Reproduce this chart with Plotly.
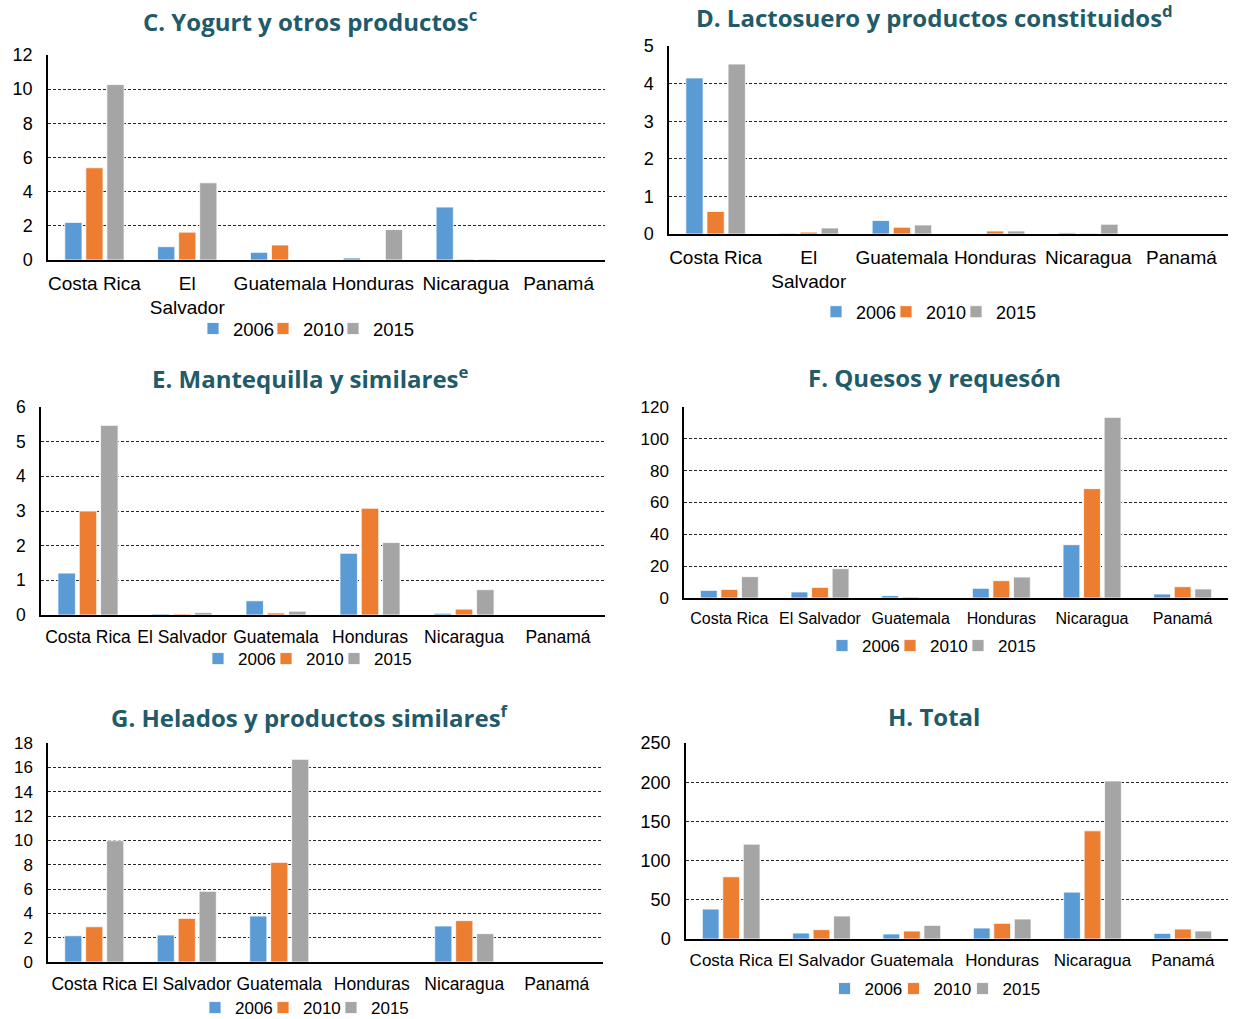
import plotly.graph_objects as go

countries = ["Costa Rica", "El Salvador", "Guatemala", "Honduras", "Nicaragua", "Panamá"]
countries_wrapped = ["Costa Rica", "El<br>Salvador", "Guatemala", "Honduras", "Nicaragua", "Panamá"]
years = ["2006", "2010", "2015"]
colors = ["#5B9BD5", "#ED7D31", "#A5A5A5"]

# C. Yogurt y otros productos
yogurt_2006 = [2.2, 0.78, 0.45, 0.12, 3.1, 0]
yogurt_2010 = [5.4, 1.63, 0.88, 0, 0.05, 0]
yogurt_2015 = [10.27, 4.52, 0, 1.78, 0.05, 0]

# D. Lactosuero y productos constituidos
suero_2006 = [4.15, 0.02, 0.36, 0, 0.03, 0]
suero_2010 = [0.6, 0.05, 0.18, 0.08, 0.02, 0]
suero_2015 = [4.52, 0.16, 0.24, 0.08, 0.26, 0]

# E. Mantequilla y similares
mant_2006 = [1.21, 0.03, 0.41, 1.78, 0.05, 0]
mant_2010 = [3.0, 0.03, 0.06, 3.08, 0.17, 0]
mant_2015 = [5.47, 0.07, 0.11, 2.09, 0.73, 0]

# F. Quesos y requesón
queso_2006 = [4.8, 3.8, 1.5, 6.1, 33.5, 2.5]
queso_2010 = [5.4, 6.7, 0.6, 10.9, 68.7, 7.1]
queso_2015 = [13.4, 18.4, 0, 13.2, 113.5, 5.7]

# G. Helados y productos similares
helado_2006 = [2.16, 2.22, 3.78, 0, 2.96, 0]
helado_2010 = [2.9, 3.59, 8.19, 0, 3.4, 0]
helado_2015 = [9.97, 5.81, 16.66, 0, 2.33, 0]

# H. Total
total_2006 = [38.2, 7.6, 6.4, 14.0, 59.8, 7.2]
total_2010 = [79.4, 11.9, 10.2, 20.0, 138.0, 12.7]
total_2015 = [121.0, 29.3, 17.4, 25.5, 201.6, 10.2]

titles = [
    "C. Yogurt y otros productos<sup>c</sup>",
    "D. Lactosuero y productos constituidos<sup>d</sup>",
    "E. Mantequilla y similares<sup>e</sup>",
    "F. Quesos y requesón",
    "G. Helados y productos similares<sup>f</sup>",
    "H. Total",
]
panel_data = [
    [yogurt_2006, yogurt_2010, yogurt_2015],
    [suero_2006, suero_2010, suero_2015],
    [mant_2006, mant_2010, mant_2015],
    [queso_2006, queso_2010, queso_2015],
    [helado_2006, helado_2010, helado_2015],
    [total_2006, total_2010, total_2015],
]
y_max = [12, 5, 6, 120, 18, 250]
y_dtick = [2, 1, 1, 20, 2, 50]

W, H = 1233, 1019
# pixel boxes: left, right, top, bottom
boxes = [
    (48, 605, 55, 260),
    (669, 1228, 46, 234),
    (41, 605, 407, 615),
    (684, 1228, 407, 598),
    (48, 603, 743, 962),
    (686, 1228, 743, 939),
]
title_pos = [(310, 20), (934, 17), (310, 377), (934, 377), (310, 716), (934, 716)]
legend_pos = [(308, 329), (931, 312), (310, 659), (934, 646), (307, 1008), (938, 989)]
legend_font = [18.5, 18, 17, 17, 17, 17]
legend_entry = [25, 25, 23, 23, 23, 24]
tick_sizes = [19, 19, 17.5, 16, 17.5, 17]
ytick_sizes = [18, 18, 17.5, 17, 17, 18]

fig = go.Figure()
layout = dict(
    width=W, height=H,
    margin=dict(l=0, r=0, t=0, b=0, autoexpand=False),
    paper_bgcolor="white", plot_bgcolor="white",
    barmode="group", bargap=0.32, bargroupgap=0.18,
    font=dict(family="Liberation Sans, Arial, sans-serif", color="#000000"),
    annotations=[],
)

for i in range(6):
    sfx = "" if i == 0 else str(i + 1)
    l, r, t, b = boxes[i]
    for k in range(3):
        fig.add_trace(go.Bar(
            x=countries, y=panel_data[i][k], name=years[k],
            marker=dict(color=colors[k], line=dict(color="rgba(255,255,255,0.8)", width=1)),
            xaxis="x" + sfx, yaxis="y" + sfx, legend="legend" + sfx,
            showlegend=True,
            legendwidth=(legend_entry[i] + 20) if k == 2 else None,
        ))
    xa = dict(
        domain=[l / W, r / W], anchor="y" + sfx,
        showline=True, linecolor="#000000", linewidth=1.5,
        showgrid=False, ticks="", tickfont=dict(size=tick_sizes[i]),
        ticklabelstandoff=5, tickangle=0,
        categoryorder="array", categoryarray=countries,
        tickvals=countries,
        ticktext=countries_wrapped if i < 2 else countries,
        fixedrange=True,
    )
    ya = dict(
        domain=[1 - b / H, 1 - t / H], anchor="x" + sfx,
        range=[0, y_max[i]], dtick=y_dtick[i], tick0=0,
        showline=True, linecolor="#000000", linewidth=1.5,
        showgrid=True, gridcolor="#262626", gridwidth=1, griddash="3px,2px",
        zeroline=False, ticks="", ticklabelstandoff=10,
        tickfont=dict(size=ytick_sizes[i]), fixedrange=True,
    )
    layout["xaxis" + sfx] = xa
    layout["yaxis" + sfx] = ya
    lx, ly = legend_pos[i]
    layout["legend" + sfx] = dict(
        orientation="h", x=lx / W, y=1 - ly / H, xanchor="center", yanchor="middle",
        font=dict(size=legend_font[i]), bgcolor="rgba(0,0,0,0)",
        entrywidth=legend_entry[i], traceorder="normal",
    )
    tx, ty = title_pos[i]
    layout["annotations"].append(dict(
        text="<b>" + titles[i] + "</b>", x=tx / W, y=1 - ty / H,
        xref="paper", yref="paper", xanchor="center", yanchor="middle",
        showarrow=False, font=dict(family="Open Sans", size=24, color="#215A69"),
    ))

fig.update_layout(**layout)
fig.write_html(
    "out.html",
    config={"displayModeBar": False},
    post_script="document.body.style.margin='0px';document.body.style.overflow='hidden';",
)
